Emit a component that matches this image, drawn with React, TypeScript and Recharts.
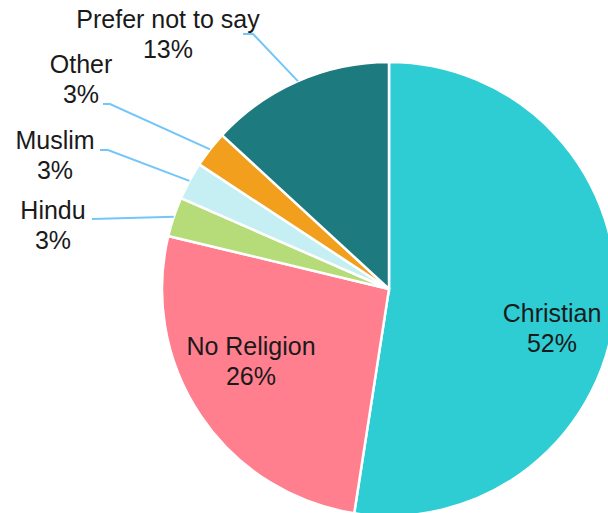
import React from "react";
import { PieChart, Pie, Cell } from "recharts";

// Religion share (%), clockwise from 12 o'clock
const religions = ["Christian", "No Religion", "Hindu", "Muslim", "Other", "Prefer not to say"];
const shares = [52.45, 26.3, 2.8, 2.7, 2.6, 13.15];
const sliceColors = ["#2ECCD3", "#FF7F8F", "#B5DC78", "#C5EFF2", "#F29F1E", "#1D7A7E"];

const data = religions.map((name, i) => ({ name, value: shares[i] }));

// label placement relative to pie centre: text (centre x, first baseline) and optional leader elbow
type LabelSpot = { tx: number; ty: number; line?: [number, number][] };
const labelSpots: LabelSpot[] = [
  { tx: 163, ty: 33 },
  { tx: -138, ty: 66 },
  { tx: -336, ty: -70, line: [[-297, -70]] },
  { tx: -334, ty: -140, line: [[-289, -139], [-281, -139]] },
  { tx: -308, ty: -216, line: [[-286, -185], [-279, -185]] },
  { tx: -221, ty: -261, line: [[-146, -255], [-136, -255]] },
];

const RADIAN = Math.PI / 180;

function renderLabel(props: any) {
  const { cx, cy, midAngle, outerRadius, percent, index, name } = props;
  const spot = labelSpots[index];
  const tx = cx + spot.tx;
  const ty = cy + spot.ty;
  const pct = `${Math.round(percent * 100)}%`;
  let leader = null;
  if (spot.line) {
    const ex = cx + outerRadius * Math.cos(-midAngle * RADIAN);
    const ey = cy + outerRadius * Math.sin(-midAngle * RADIAN);
    const pts = spot.line.map(([x, y]) => `${cx + x},${cy + y}`).concat(`${ex},${ey}`).join(" ");
    leader = <polyline points={pts} fill="none" stroke="#74C6F8" strokeWidth={2} />;
  }
  return (
    <g key={`lbl-${index}`}>
      {leader}
      <text
        x={tx}
        y={ty}
        textAnchor="middle"
        fill="#1a1a1a"
        fontSize={25}
        fontFamily="'Liberation Sans', Arial, sans-serif"
      >
        <tspan x={tx} y={ty}>{name}</tspan>
        <tspan x={tx} y={ty + 30}>{pct}</tspan>
      </text>
    </g>
  );
}

export default function App() {
  return (
    <div style={{ position: "absolute", left: 0, top: 0, width: 608, height: 513, background: "#fff" }}>
      <PieChart width={608} height={513} margin={{ top: 0, right: 0, bottom: 0, left: 0 }}>
        <Pie
          data={data}
          dataKey="value"
          nameKey="name"
          cx={389}
          cy={289}
          outerRadius={227}
          startAngle={90}
          endAngle={-270}
          stroke="#fff"
          strokeWidth={2.5}
          label={renderLabel}
          labelLine={false}
          isAnimationActive={false}
        >
          {data.map((d, i) => (
            <Cell key={d.name} fill={sliceColors[i]} />
          ))}
        </Pie>
      </PieChart>
    </div>
  );
}
